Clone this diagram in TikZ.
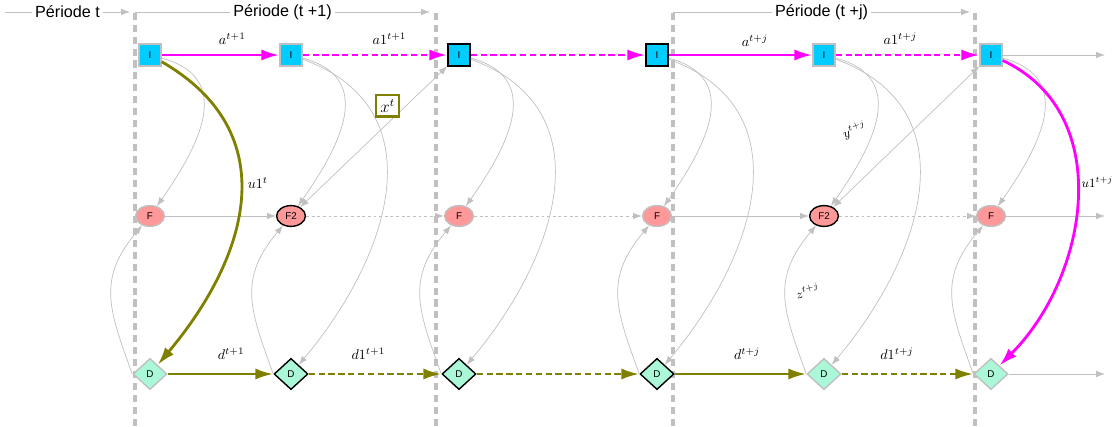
\documentclass[tikz,border=0pt]{standalone}
\usepackage{fontspec}
\setmainfont{Liberation Sans}
\usepackage{amsmath}
\usetikzlibrary{arrows.meta,shapes.geometric,positioning,calc}
\pgfdeclarelayer{bg}
\pgfsetlayers{bg,main}
\definecolor{icyan}{HTML}{00CCFF}
\definecolor{fpink}{HTML}{FF9999}
\definecolor{dmint}{HTML}{AAF8D8}
\definecolor{lgray}{HTML}{C0C0C0}
\definecolor{olivey}{HTML}{808000}
\definecolor{magy}{HTML}{FF00FF}

\begin{document}
\begin{tikzpicture}[
			inode/.style = {rectangle, draw=lgray, fill=icyan, line width=1pt, minimum size=0.55cm, inner sep=0pt, font=\fontsize{7}{8}\selectfont},
			fnode/.style = {ellipse, draw=lgray, fill=fpink, line width=1pt, minimum width=0.72cm, minimum height=0.52cm, inner sep=0pt, font=\fontsize{7}{8}\selectfont},
			dnode/.style = {diamond, draw=lgray, fill=dmint, line width=1pt, minimum width=0.85cm, minimum height=0.78cm, inner sep=0pt, font=\fontsize{7}{8}\selectfont},
			dark/.style = {draw=black},
			gline/.style = {draw=lgray, line width=0.5pt, -{Latex[length=2.2mm,width=1.6mm]}},
			gboth/.style = {draw=lgray, line width=0.5pt, {Latex[length=2.2mm,width=1.6mm]}-{Latex[length=2.2mm,width=1.6mm]}},
			mline/.style = {draw=magy, line width=2pt, -{Latex[length=4.5mm,width=2.8mm]}},
			oline/.style = {draw=olivey, line width=2pt, -{Latex[length=4.5mm,width=2.8mm]}},
			broken/.style = {dash pattern=on 4.5pt off 2.5pt},
			dotline/.style = {dash pattern=on 2pt off 2pt},
			lbl/.style = {font=\normalsize, inner sep=1pt},
			periodline/.style = {lgray, line width=2.8pt, dash pattern=on 5pt off 3.5pt},
			period/.style = {fill=white, inner sep=2pt, font=\fontsize{11.5}{13}\selectfont}]
			\def\yi{9.275}
			\def\yf{5.25}
			\def\yd{1.3}
			\def\yh{10.35}

			\useasboundingbox (0,0) rectangle (27.925,10.65);

			% periods
			\begin{pgfonlayer}{bg}
				\draw[periodline] (3.375,0) -- (3.375,10.45);
				\draw[periodline] (10.9,0) -- (10.9,10.45);
				\draw[periodline] (16.825,0) -- (16.825,10.45);
				\draw[periodline] (24.375,0) -- (24.375,10.45);
			\end{pgfonlayer}
			\coordinate (h0a) at (0.125,\yh);
			\coordinate (h0b) at (3.25,\yh);
			\coordinate (h1a) at (3.375,\yh);
			\coordinate (h1b) at (10.75,\yh);
			\coordinate (hja) at (16.825,\yh);
			\coordinate (hjb) at (24.25,\yh);
			\draw[gline] (h0a) -- node[period]{Période t} (h0b);
			\draw[gline] (h1a) -- node[period]{Période (t +1)} (h1b);
			\draw[gline] (hja) -- node[period]{Période (t +j)} (hjb);

			% nodes
			\node[inode] (I1) at (3.75,\yi) {I};
			\node[inode] (I2) at (7.275,\yi) {I};
			\node[inode, dark] (I3) at (11.475,\yi) {I};
			\node[inode, dark] (I4) at (16.425,\yi) {I};
			\node[inode] (I5) at (20.6,\yi) {I};
			\node[inode] (I6) at (24.775,\yi) {I};

			\node[fnode] (F1) at (3.75,\yf) {F};
			\node[fnode, dark] (F2) at (7.275,\yf) {F2};
			\node[fnode] (F3) at (11.475,\yf) {F};
			\node[fnode] (F4) at (16.425,\yf) {F};
			\node[fnode, dark] (F5) at (20.6,\yf) {F2};
			\node[fnode] (F6) at (24.775,\yf) {F};

			\node[dnode] (D1) at (3.75,\yd) {D};
			\node[dnode, dark] (D2) at (7.275,\yd) {D};
			\node[dnode, dark] (D3) at (11.475,\yd) {D};
			\node[dnode, dark] (D4) at (16.425,\yd) {D};
			\node[dnode] (D5) at (20.6,\yd) {D};
			\node[dnode] (D6) at (24.775,\yd) {D};

			\coordinate (iend) at (27.625,\yi);
			\coordinate (fend) at (27.625,\yf);
			\coordinate (dend) at (27.625,\yd);

			% I row
			\draw[mline] (I1) -- node[lbl, pos=.6, above=2mm]{$a^{t+1}$} (I2);
			\draw[mline, broken] (I2) -- node[lbl, pos=.6, above=2mm]{$a1^{t+1}$} (I3);
			\draw[mline, broken] (I3) -- (I4);
			\draw[mline] (I4) -- node[lbl, pos=.6, above=1.5mm]{$a^{t+j}$} (I5);
			\draw[mline, broken] (I5) -- node[lbl, pos=.45, above=2mm]{$a1^{t+j}$} (I6);
			\draw[gline] (I6) -- (iend);

			% F row
			\draw[gline] (F1) -- (F2);
			\draw[gline, dotline] (F2) -- (F3);
			\draw[gline, dotline] (F3) -- (F4);
			\draw[gline] (F4) -- (F5);
			\draw[gline, dotline] (F5) -- (F6);
			\draw[gline] (F6) -- (fend);

			% D row
			\draw[oline] (D1) -- node[lbl, pos=.6, above=3mm]{$d^{t+1}$} (D2);
			\draw[oline, broken] (D2) -- node[lbl, pos=.45, above=3mm]{$d1^{t+1}$} (D3);
			\draw[oline, broken] (D3) -- (D4);
			\draw[oline] (D4) -- node[lbl, pos=.55, above=3mm]{$d^{t+j}$} (D5);
			\draw[oline, broken] (D5) -- node[lbl, pos=.42, above=3mm]{$d1^{t+j}$} (D6);
			\draw[gline] (D6) -- (dend);

			% I to F
			\draw[gline] (I1) to[out=-15,in=55,looseness=1.3] (F1);
			\draw[gline] (I2) to[out=-15,in=55,looseness=1.3] (F2);
			\draw[gline] (I3) to[out=-15,in=55,looseness=1.3] (F3);
			\draw[gline] (I4) to[out=-15,in=55,looseness=1.3] (F4);
			\draw[gline] (I5) to[out=-15,in=55,looseness=1.3] node[pos=.55, left=3pt, rotate=20, font=\small]{$y^{t+j}$} (F5);
			\draw[gline] (I6) to[out=-15,in=55,looseness=1.3] (F6);

			% I to D
			\draw[gline] (I2) to[out=-20,in=50,looseness=1.2] (D2);
			\draw[gline] (I3) to[out=-20,in=50,looseness=1.2] (D3);
			\draw[gline] (I4) to[out=-20,in=50,looseness=1.2] (D4);
			\draw[gline] (I5) to[out=-20,in=50,looseness=1.2] (D5);
			\draw[oline] (I1) to[out=-30,in=50,looseness=1.2] node[lbl, pos=.45, right=1mm]{$u1^{t}$} (D1);
			\draw[mline] (I6) to[out=-25,in=45,looseness=1.05] node[lbl, pos=.45, right=1pt, font=\small]{$u1^{t+j}$} (D6);

			% D to F
			\draw[gline] (D1.west) to[out=110,in=-130,looseness=1.2] (F1);
			\draw[gline] (D2.west) to[out=110,in=-130,looseness=1.2] (F2);
			\draw[gline] (D3.west) to[out=110,in=-130,looseness=1.2] (F3);
			\draw[gline] (D4.west) to[out=110,in=-130,looseness=1.2] (F4);
			\draw[gline] (D5.west) to[out=110,in=-130,looseness=1.2] node[pos=.5, right=4pt, rotate=15, font=\small]{$z^{t+j}$} (F5);
			\draw[gline] (D6.west) to[out=110,in=-130,looseness=1.2] (F6);

			% F2 and I
			\draw[gboth] (F2) -- node[pos=.72, left=1.5mm, draw=olivey, line width=1.6pt, fill=white, inner sep=3pt, font=\large]{$x^{t}$} (I3);
			\draw[gboth] (F5) -- (I6);

		\end{tikzpicture}
\end{document}
